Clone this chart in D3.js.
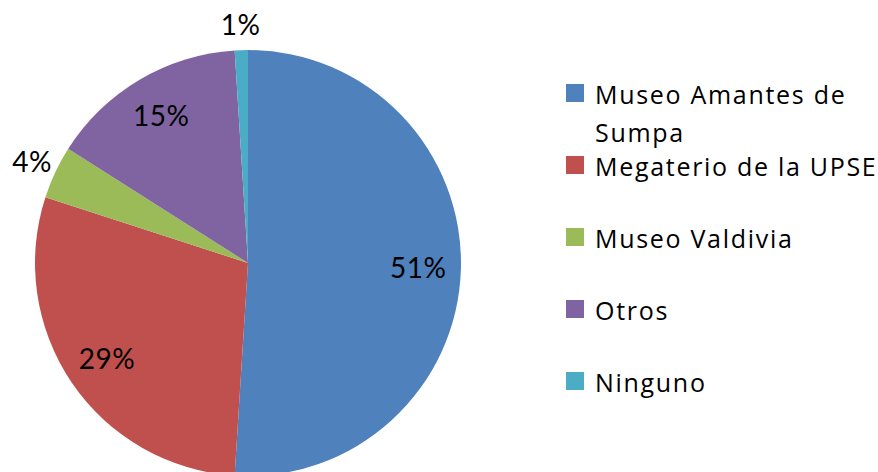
<!DOCTYPE html>
<html>
<head>
<meta charset="utf-8">
<script src="https://cdn.jsdelivr.net/npm/d3@7"></script>
<style>
  body { margin: 0; background: #fff; }
  text { font-family: Lato, "Open Sans", sans-serif; fill: #000; }
</style>
</head>
<body>
<svg id="chart"></svg>
<script>
const W = 878
const H = 472

const categories = ['Museo Amantes de Sumpa', 'Megaterio de la UPSE', 'Museo Valdivia', 'Otros', 'Ninguno']
const values = [51, 29, 4, 15, 1]
const colors = ['#4F81BD', '#C0504D', '#9BBB59', '#8064A2', '#4BACC6']

const cx = 248, cy = 263, r = 213

const svg = d3.select('svg#chart').attr('width', W).attr('height', H)

const color = d3.scaleOrdinal().domain(categories).range(colors)

const pie = d3.pie().sort(null).value(d => d.value)
const data = categories.map((c, i) => ({ name: c, value: values[i] }))
const arcs = pie(data)

const arc = d3.arc().innerRadius(0).outerRadius(r)
const inLabel = d3.arc().innerRadius(r * 0.8).outerRadius(r * 0.8)
const outLabel = d3.arc().innerRadius(r * 1.12).outerRadius(r * 1.12)

const g = svg.append('g').attr('transform', 'translate(' + cx + ',' + cy + ')')

g.selectAll('path.slice')
  .data(arcs)
  .enter()
  .append('path')
  .attr('class', 'slice')
  .attr('d', arc)
  .attr('fill', d => color(d.data.name))

g.selectAll('text.pct')
  .data(arcs)
  .enter()
  .append('text')
  .attr('class', 'pct')
  .attr('transform', d => {
    const p = (d.data.value < 5 ? outLabel : inLabel).centroid(d)
    return 'translate(' + p[0] + ',' + p[1] + ')'
  })
  .attr('text-anchor', 'middle')
  .attr('dy', '0.36em')
  .style('font-size', '28px')
  .style('letter-spacing', '0.5px')
  .text(d => d.data.value + '%')

// legend
const legend = svg.append('g').attr('transform', 'translate(566,0)')
const lines = [['Museo Amantes de', 'Sumpa'], ['Megaterio de la UPSE'], ['Museo Valdivia'], ['Otros'], ['Ninguno']]
const rowY = d3.scaleLinear().domain([1, 4]).range([176, 392])

const item = legend.selectAll('g.item')
  .data(categories)
  .enter()
  .append('g')
  .attr('class', 'item')
  .attr('transform', (d, i) => 'translate(0,' + (i === 0 ? 104 : rowY(i)) + ')')

item.append('rect')
  .attr('x', 0)
  .attr('y', -20)
  .attr('width', 18)
  .attr('height', 18)
  .attr('fill', d => color(d))

item.append('text')
  .attr('x', 29)
  .attr('y', 0)
  .style('font-family', '"Open Sans", sans-serif')
  .style('font-size', '25px')
  .style('letter-spacing', '1.7px')
  .selectAll('tspan')
  .data((d, i) => lines[i])
  .enter()
  .append('tspan')
  .attr('x', 29)
  .attr('dy', (d, j) => j === 0 ? 0 : 38)
  .text(d => d)
</script>
</body>
</html>
